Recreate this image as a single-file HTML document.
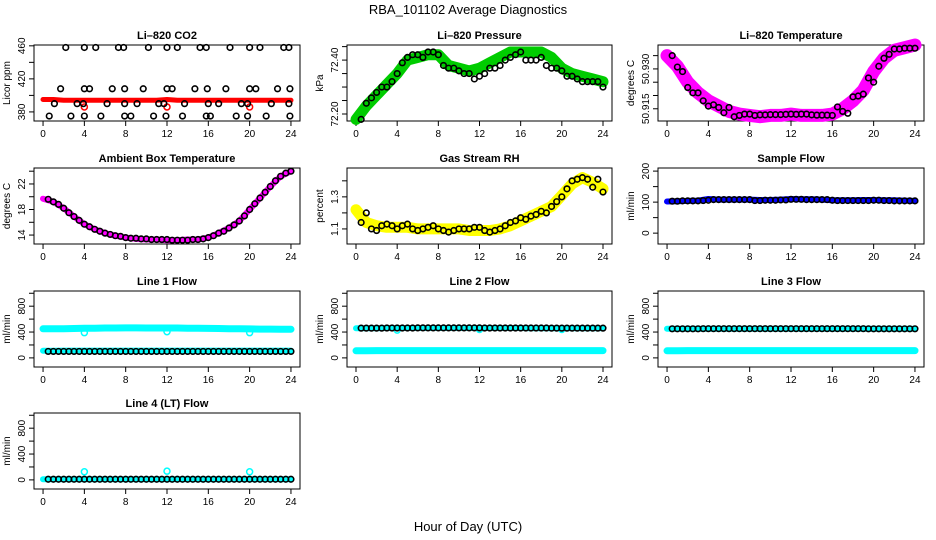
<!DOCTYPE html>
<html><head><meta charset="utf-8">
<style>
html,body{margin:0;padding:0;background:#fff;}
svg{display:block;font-family:"Liberation Sans",sans-serif;}
</style></head>
<body>
<svg id="chart" width="936" height="540" viewBox="0 0 936 540">
<text x="468" y="14" text-anchor="middle" font-size="13">RBA_101102  Average Diagnostics</text>
<text x="468" y="531" text-anchor="middle" font-size="13">Hour of Day (UTC)</text>
</svg>
<script>
// ---- data ----
const xTicks = [0, 4, 8, 12, 16, 20, 24];
const hoursHalf = [0.5,1,1.5,2,2.5,3,3.5,4,4.5,5,5.5,6,6.5,7,7.5,8,8.5,9,9.5,10,10.5,11,11.5,12,12.5,13,13.5,14,14.5,15,15.5,16,16.5,17,17.5,18,18.5,19,19.5,20,20.5,21,21.5,22,22.5,23,23.5,24];
const hoursFull = [0,1,2,3,4,5,6,7,8,9,10,11,12,13,14,15,16,17,18,19,20,21,22,23,24];

// CO2
const co2Color = [395,395,394,394,394,394,394,394,394,394,394,394,395,394,394,394,394,394,394,394,394,394,394,394,394];
const co2BlackX = [2.2,4,5.1,7.3,7.8,10.2,12,13,15.2,15.8,18.1,20,21,23.3,23.8, 0.6,2.7,4,5.6,7.9,8.5,10.7,11.9,13.5,15.8,16.2,18.7,19.8,21.6,23.9, 1.7,4,4.5,6.7,7.9,9.7,12,12.5,14.7,15.9,17.7,20,20.6,22.7,23.9, 1.1,3.3,3.9,6.2,7.9,9.1,11.2,11.7,13.7,16,17,19.2,19.8,22.1,23.8];
const co2BlackY = [458,458,458,458,458,458,458,458,458,458,458,458,458,458,458, 375,375,375,375,375,375,375,375,375,375,375,375,375,375,375, 408,408,408,408,408,408,408,408,408,408,408,408,408,408,408, 390,390,390,390,390,390,390,390,390,390,390,390,390,390,390];
// Pressure
const presColor = [72.18,72.23,72.27,72.31,72.35,72.40,72.41,72.42,72.42,72.38,72.37,72.36,72.37,72.39,72.41,72.43,72.43,72.43,72.43,72.41,72.37,72.35,72.34,72.33,72.32];
const presBlack = [72.18,72.24,72.26,72.28,72.30,72.30,72.32,72.35,72.39,72.41,72.42,72.42,72.41,72.43,72.43,72.42,72.38,72.37,72.37,72.36,72.35,72.35,72.33,72.34,72.35,72.37,72.37,72.38,72.40,72.41,72.42,72.43,72.40,72.40,72.40,72.41,72.38,72.37,72.37,72.36,72.34,72.34,72.33,72.32,72.32,72.32,72.32,72.30];
// Li-820 temperature
const tempColor = [50.935,50.931,50.925,50.921,50.918,50.916,50.914,50.913,50.9125,50.912,50.9125,50.9125,50.913,50.9125,50.9125,50.9125,50.913,50.915,50.918,50.922,50.929,50.934,50.937,50.938,50.939];
const tempBlack = [50.935,50.9307,50.929,50.923,50.921,50.921,50.918,50.916,50.9165,50.9155,50.9135,50.9155,50.912,50.9125,50.913,50.913,50.9125,50.9127,50.9127,50.9128,50.9128,50.9128,50.9129,50.913,50.9129,50.913,50.913,50.9127,50.9126,50.9126,50.9126,50.9125,50.9157,50.914,50.9133,50.9195,50.9198,50.9205,50.9266,50.925,50.931,50.934,50.9355,50.9375,50.9375,50.9378,50.9378,50.9378];
// Ambient box temperature
const ambColor = [19.7,19.2,18.2,16.9,15.7,14.9,14.3,13.9,13.6,13.4,13.3,13.3,13.2,13.2,13.3,13.3,13.6,14.3,15.1,16.2,18.0,19.8,21.6,23.2,24.0];
const ambBlack = [19.6,19.2,18.8,18.2,17.5,16.9,16.3,15.7,15.3,14.9,14.6,14.3,14.1,13.9,13.8,13.6,13.5,13.5,13.4,13.4,13.3,13.3,13.3,13.3,13.2,13.2,13.2,13.2,13.3,13.3,13.4,13.6,13.9,14.3,14.6,15.1,15.6,16.2,17.0,18.0,18.9,19.8,20.7,21.6,22.5,23.2,23.7,24.0];
// Gas stream RH
const rhColor = [1.22,1.14,1.12,1.11,1.11,1.11,1.10,1.10,1.10,1.10,1.10,1.09,1.09,1.09,1.10,1.12,1.15,1.18,1.21,1.24,1.31,1.38,1.42,1.39,1.35];
const rhBlack = [1.14,1.20,1.10,1.09,1.12,1.13,1.12,1.10,1.12,1.13,1.10,1.09,1.10,1.11,1.12,1.10,1.09,1.08,1.09,1.10,1.10,1.10,1.11,1.11,1.09,1.08,1.09,1.10,1.12,1.14,1.15,1.17,1.16,1.18,1.19,1.21,1.20,1.24,1.27,1.30,1.35,1.40,1.41,1.42,1.41,1.36,1.41,1.33];
// Sample flow
const sfColor = [102,103,104,105,110,108,108,108,108,107,107,108,110,109,109,108,106,106,106,107,107,106,106,105,104];
const sfBlack = [103,103,104,104,104,104,105,106,108,108,108,108,108,108,108,108,105,105,106,106,106,107,107,109,109,109,108,108,108,108,108,106,105,105,105,105,105,105,105,106,106,105,105,104,104,104,104,104];
// Line flows
const l1High = [450,450,452,455,458,460,462,463,464,464,463,462,462,462,460,458,456,455,452,450,448,446,445,444,443];
const l1Low = [110,110,112,112,112,112,112,112,112,112,112,112,112,112,112,112,112,112,112,112,112,112,112,112,112];
const l1Black = [100,100,100,100,100,100,100,100,100,100,100,100,100,100,100,100,100,100,100,100,100,100,100,100,100,100,100,100,100,100,100,100,100,100,100,100,100,100,100,100,100,100,100,100,100,100,100,100];
const l1OutX = [4,12,20];
const l1OutY = [390,405,390];
const l2High = [460,460,460,462,462,462,462,462,462,462,462,462,462,462,462,462,462,460,460,460,460,460,458,458,458];
const l2Low = [110,110,112,112,112,112,112,112,112,112,112,112,112,112,112,112,112,112,112,112,112,112,112,112,112];
const l2Black = [460,460,460,460,460,462,462,462,462,462,462,464,464,464,464,464,464,464,464,464,464,464,464,464,462,462,462,462,462,462,462,462,462,462,462,462,462,460,460,460,460,460,460,460,460,460,460,460];
const l3High = [450,450,450,450,452,452,452,452,452,452,452,452,452,452,452,452,452,452,452,450,450,450,450,450,450];
const l3Low = [110,110,112,112,112,112,112,112,112,112,112,112,112,112,112,112,112,112,112,112,112,112,112,112,112];
const l3Black = [450,450,450,450,450,450,452,452,452,452,452,452,452,452,452,452,452,452,452,452,452,452,452,452,452,452,452,452,452,452,452,452,452,452,452,452,452,452,450,450,450,450,450,450,450,450,450,450];
const l4Color = [10,10,10,10,10,10,10,10,10,10,10,10,10,10,10,10,10,10,10,10,10,10,10,10,10];
const l4Black = [10,10,10,10,10,10,10,10,10,10,10,10,10,10,10,10,10,10,10,10,10,10,10,10,10,10,10,10,10,10,10,10,10,10,10,10,10,10,10,10,10,10,10,10,10,10,10,10];
const l4OutX = [4,12,20];
const l4OutY = [125,135,125];

// ---- drawing ----
const NS = 'http://www.w3.org/2000/svg';
const svg = document.getElementById('chart');
function mk(tag, attrs, parent){
  const e = document.createElementNS(NS, tag);
  for (const k in attrs) e.setAttribute(k, attrs[k]);
  (parent || svg).appendChild(e);
  return e;
}
const colsL = [34, 347, 658], colsR = [300, 612, 924];
const rowsT = [45, 168, 291, 413], H = 76;

function panel(cfg){
  const L = colsL[cfg.col], R = colsR[cfg.col], T = rowsT[cfg.row], B = T + H;
  const g = mk('g', {});
  
  
  const x0 = L + (R - L) * 0.034, x1 = R - (R - L) * 0.034;
  const sx = v => x0 + (v / 24) * (x1 - x0);
  const sy = v => B - (v - cfg.ymin) / (cfg.ymax - cfg.ymin) * H;
  const t = mk('text', {x: (L + R) / 2, y: T - 6, 'text-anchor': 'middle', 'font-size': 11, 'font-weight': 'bold'}, g);
  t.textContent = cfg.title;
  
  
  const xa = mk('g', {}, g);
  
  
  mk('line', {x1: sx(0), x2: sx(24), y1: B, y2: B, stroke: '#000', 'stroke-width': 1}, xa);
  xTicks.forEach(v => {
    mk('line', {x1: sx(v), x2: sx(v), y1: B, y2: B + 5, stroke: '#000'}, xa);
    const tx = mk('text', {x: sx(v), y: B + 16, 'text-anchor': 'middle', 'font-size': 10}, xa);
    tx.textContent = v;
  });
  const ya = mk('g', {}, g);
  
  
  const tks = cfg.yticks;
  mk('line', {x1: L, x2: L, y1: sy(tks[0]), y2: sy(tks[tks.length - 1]), stroke: '#000'}, ya);
  tks.forEach(v => {
    mk('line', {x1: L - 5, x2: L, y1: sy(v), y2: sy(v), stroke: '#000'}, ya);
  });
  cfg.ylabels.forEach((lab, i) => {
    const yy = sy(cfg.ylabelVals[i]);
    const tx = mk('text', {x: L - 9, y: yy, 'text-anchor': 'middle', 'font-size': 10, transform: `rotate(-90 ${L - 9} ${yy})`}, ya);
    tx.textContent = lab;
  });
  const yt = mk('text', {x: L - 24, y: (T + B) / 2, 'text-anchor': 'middle', 'font-size': 10, transform: `rotate(-90 ${L - 24} ${(T + B) / 2})`}, g);
  yt.textContent = cfg.ylab;
  
  
  mk('rect', {x: L, y: T, width: R - L, height: H, fill: 'none', stroke: '#000', 'stroke-width': 1}, g);
  const clip = mk('g', {}, g);
  cfg.bands.forEach(b => {
    const pts = hoursFull.map((h, i) => sx(h).toFixed(1) + ',' + sy(b.vals[i]).toFixed(1)).join(' ');
    const pl = mk('polyline', {points: pts, fill: 'none', stroke: b.color, 'stroke-width': b.w, 'stroke-linejoin': 'round', 'stroke-linecap': 'round'}, clip);
    
    
  });
  (cfg.outliers || []).forEach(o => {
    o.x.forEach((xv, i) => {
      const c = mk('circle', {cx: sx(xv), cy: sy(o.y[i]), r: 3, fill: 'none', stroke: o.color, 'stroke-width': 1.5}, clip);
      
      
    });
  });
  const bx = cfg.blackX || hoursHalf;
  cfg.black.forEach((v, i) => {
    const c = mk('circle', {cx: sx(bx[i]), cy: sy(v), r: 2.8, fill: 'none', stroke: '#000', 'stroke-width': 1.6}, clip);
    
    
  });
}

panel({name:'co2-panel', title:'Li\u2013820 CO2', col:0, row:0, ymin:369, ymax:461, yticks:[380,400,420,440,460], ylabels:['380','420','460'], ylabelVals:[380,420,460], ylab:'Licor ppm',
  bands:[{vals:co2Color, color:'#ff0000', w:5}], outliers:[{x:[4,12,20], y:[386,386,386], color:'#ff0000'}], black:co2BlackY, blackX:co2BlackX});
panel({name:'pressure-panel', title:'Li\u2013820 Pressure', col:1, row:0, ymin:72.174, ymax:72.456, yticks:[72.20,72.25,72.30,72.35,72.40,72.45], ylabels:['72.20','72.40'], ylabelVals:[72.20,72.40], ylab:'kPa',
  bands:[{vals:presColor, color:'#00cc00', w:11}], black:presBlack});
panel({name:'li820-temperature-panel', title:'Li\u2013820 Temperature', col:2, row:0, ymin:50.9104, ymax:50.939, yticks:[50.915,50.920,50.925,50.930,50.935], ylabels:['50.915','50.930'], ylabelVals:[50.915,50.930], ylab:'degrees C',
  bands:[{vals:tempColor, color:'#ff00ff', w:13}], black:tempBlack});
panel({name:'ambient-temperature-panel', title:'Ambient Box Temperature', col:0, row:1, ymin:12.6, ymax:24.5, yticks:[14,16,18,20,22,24], ylabels:['14','18','22'], ylabelVals:[14,18,22], ylab:'degrees C',
  bands:[{vals:ambColor, color:'#ff00ff', w:6}], black:ambBlack});
panel({name:'gas-rh-panel', title:'Gas Stream RH', col:1, row:1, ymin:1.006, ymax:1.48, yticks:[1.1,1.2,1.3,1.4], ylabels:['1.1','1.3'], ylabelVals:[1.1,1.3], ylab:'percent',
  bands:[{vals:rhColor, color:'#ffff00', w:11}], black:rhBlack});
panel({name:'sample-flow-panel', title:'Sample Flow', col:2, row:1, ymin:-35, ymax:210, yticks:[0,50,100,150,200], ylabels:['0','100','200'], ylabelVals:[0,100,200], ylab:'ml/min',
  bands:[{vals:sfColor, color:'#0000ff', w:6}], black:sfBlack});
const flowTicks = [0,200,400,600,800,1000];
panel({name:'line1-flow-panel', title:'Line 1 Flow', col:0, row:2, ymin:-141, ymax:1035, yticks:flowTicks, ylabels:['0','400','800'], ylabelVals:[0,400,800], ylab:'ml/min',
  bands:[{vals:l1High, color:'#00ffff', w:7},{vals:l1Low, color:'#00ffff', w:6}], outliers:[{x:l1OutX, y:l1OutY, color:'#00ffff'}], black:l1Black});
panel({name:'line2-flow-panel', title:'Line 2 Flow', col:1, row:2, ymin:-141, ymax:1035, yticks:flowTicks, ylabels:['0','400','800'], ylabelVals:[0,400,800], ylab:'ml/min',
  bands:[{vals:l2High, color:'#00ffff', w:6},{vals:l2Low, color:'#00ffff', w:7}], outliers:[{x:[4,12,20], y:[430,440,440], color:'#00ffff'}], black:l2Black});
panel({name:'line3-flow-panel', title:'Line 3 Flow', col:2, row:2, ymin:-141, ymax:1035, yticks:flowTicks, ylabels:['0','400','800'], ylabelVals:[0,400,800], ylab:'ml/min',
  bands:[{vals:l3High, color:'#00ffff', w:6},{vals:l3Low, color:'#00ffff', w:7}], black:l3Black});
panel({name:'line4-flow-panel', title:'Line 4 (LT) Flow', col:0, row:3, ymin:-141, ymax:1035, yticks:flowTicks, ylabels:['0','400','800'], ylabelVals:[0,400,800], ylab:'ml/min',
  bands:[{vals:l4Color, color:'#00ffff', w:6}], outliers:[{x:l4OutX, y:l4OutY, color:'#00ffff'}], black:l4Black});
</script>
</body></html>
